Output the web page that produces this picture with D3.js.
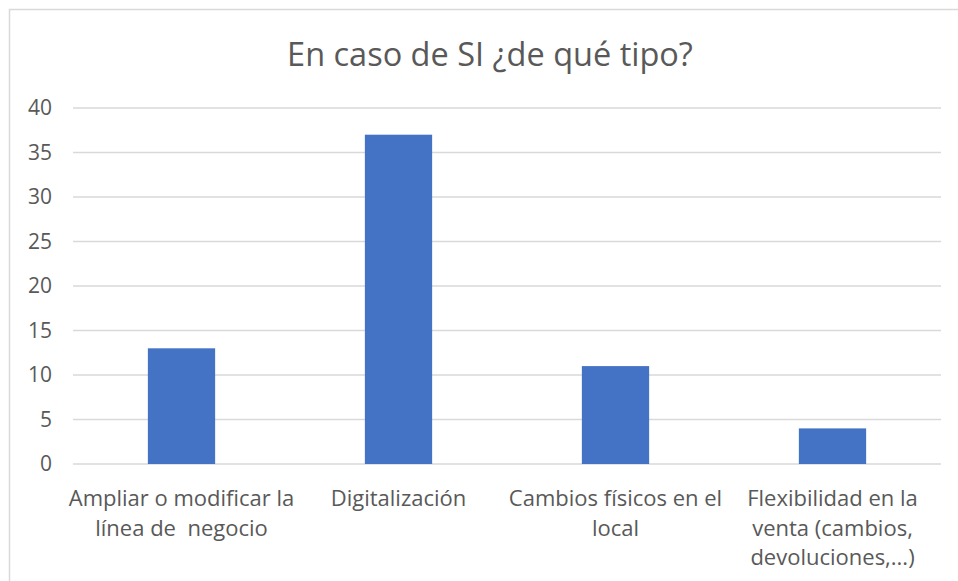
<!DOCTYPE html>
<html>
<head>
<meta charset="utf-8">
<script src="https://cdn.jsdelivr.net/npm/d3@7"></script>
<style>
  body { margin: 0; background: #fff; }
  text { font-family: "Open Sans", sans-serif; fill: #595959; white-space: pre; }
</style>
</head>
<body>
<div id="chart"></div>
<script>
// datos
var categories = ["Ampliar o modificar la línea de  negocio", "Digitalización",
                  "Cambios físicos en el local", "Flexibilidad en la venta (cambios, devoluciones,...)"];
var values = [13, 37, 11, 4];
// etiquetas del eje x partidas en lineas
var tickLines = [["Ampliar o modificar la", "línea de  negocio"],
                 ["Digitalización"],
                 ["Cambios físicos en el", "local"],
                 ["Flexibilidad en la", "venta (cambios,", "devoluciones,...)"]];
var yTicks = [0, 5, 10, 15, 20, 25, 30, 35, 40];
var title = "En caso de SI ¿de qué tipo?";

var width = 958, height = 581;
var margin = {top: 108, right: 17, bottom: 117, left: 73};
var w = width - margin.left - margin.right,
    h = height - margin.top - margin.bottom;

var svg = d3.select("#chart").append("svg")
            .attr("width", width)
            .attr("height", height);

// borde del grafico
svg.append("rect")
   .attr("x", 9.5).attr("y", 9.5)
   .attr("width", 962).attr("height", 600)
   .attr("fill", "none")
   .attr("stroke", "#d9d9d9")
   .attr("stroke-width", 1.5);

svg.append("text")
   .attr("x", 490)
   .attr("y", 66)
   .attr("text-anchor", "middle")
   .style("font-size", "32.5px")
   .text(title);

var g = svg.append("g")
           .attr("transform", "translate(" + margin.left + "," + margin.top + ")");

var x = d3.scaleBand().domain(categories).range([0, w]).padding(0);
var y = d3.scaleLinear().domain([0, 40]).range([h, 0]);

// gridlines
g.selectAll("line.grid")
 .data(yTicks)
 .join("line")
 .attr("class", "grid")
 .attr("x1", 0).attr("x2", w)
 .attr("y1", d => y(d)).attr("y2", d => y(d))
 .attr("stroke", "#d9d9d9")
 .attr("stroke-width", 1.5);

// y labels
g.selectAll("text.ylab")
 .data(yTicks)
 .join("text")
 .attr("class", "ylab")
 .attr("x", -21)
 .attr("y", d => y(d))
 .attr("dy", "0.35em")
 .attr("text-anchor", "end")
 .style("font-size", "21px")
 .text(d => d);

// bars
var barW = x.bandwidth() * 0.31;
g.selectAll("rect.bar")
 .data(values)
 .join("rect")
 .attr("class", "bar")
 .attr("x", (d, i) => x(categories[i]) + x.bandwidth() / 2 - barW / 2)
 .attr("y", d => y(d))
 .attr("width", barW)
 .attr("height", d => h - y(d))
 .attr("fill", "#4472c4");

// x labels
var xl = g.selectAll("text.xlab")
 .data(tickLines)
 .join("text")
 .attr("class", "xlab")
 .attr("text-anchor", "middle")
 .style("font-size", "22px")
 .attr("transform", (d, i) => "translate(" + (x(categories[i]) + x.bandwidth() / 2) + "," + (h + 42) + ")");
xl.selectAll("tspan")
  .data(d => d)
  .join("tspan")
  .attr("x", 0)
  .attr("y", (d, i) => i * 29.5)
  .text(d => d);
</script>
</body>
</html>
